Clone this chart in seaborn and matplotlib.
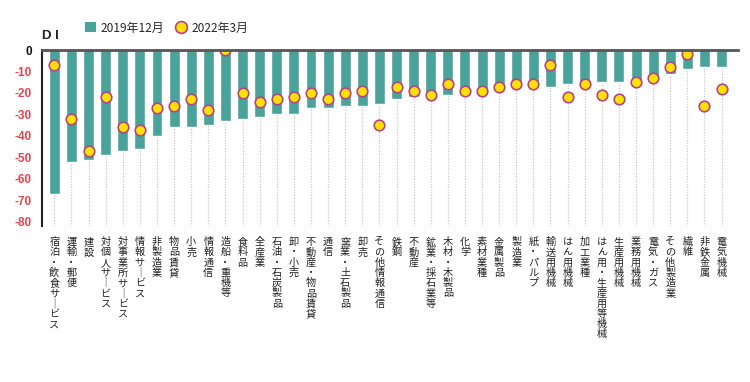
import matplotlib
matplotlib.use("Agg")
import matplotlib.pyplot as plt
from matplotlib.lines import Line2D
from matplotlib.patches import Patch
import seaborn as sns
import pandas as pd

categories = [
    "宿泊・飲食サービス", "運輸・郵便", "建設", "対個人サービス", "対事業所サービス",
    "情報サービス", "非製造業", "物品賃貸", "小売", "情報通信",
    "造船・重機等", "食料品", "全産業", "石油・石炭製品", "卸・小売",
    "不動産・物品賃貸", "通信", "窯業・土石製品", "卸売", "その他情報通信",
    "鉄鋼", "不動産", "鉱業・採石業等", "木材・木製品", "化学",
    "素材業種", "金属製品", "製造業", "紙・パルプ", "輸送用機械",
    "はん用機械", "加工業種", "はん用・生産用等機械", "生産用機械", "業務用機械",
    "電気・ガス", "その他製造業", "繊維", "非鉄金属", "電気機械",
]
di_2019_12 = [-67, -52, -51, -49, -47, -46, -40, -36, -36, -35,
              -33, -32, -31, -30, -30, -27, -27, -26, -26, -25,
              -23, -22, -22, -21, -21, -19, -17, -17, -17, -17,
              -16, -16, -15, -15, -14, -14, -11, -9, -8, -8]
di_2022_03 = [-7, -32, -47, -22, -36, -37, -27, -26, -23, -28,
              0, -20, -24, -23, -22, -20, -23, -20, -19, -35,
              -17, -19, -21, -16, -19, -19, -17, -16, -16, -7,
              -22, -16, -21, -23, -15, -13, -8, -2, -26, -18]
series_labels = ["2019年12月", "2022年3月"]
ytick_values = [0, -10, -20, -30, -40, -50, -60, -70, -80]

TEAL = "#4aa39b"
YELLOW = "#ffe100"
EDGE = "#b5438a"
RED = "#e2474f"

sns.set_theme(style="white")
plt.rcParams["font.family"] = ["Noto Sans CJK JP", "DejaVu Sans"]

df = pd.DataFrame({"cat": categories, "v1": di_2019_12, "v2": di_2022_03})

fig = plt.figure(figsize=(7.5, 3.82), dpi=100)
ax = fig.add_axes([41.7 / 750, 1 - 226 / 382, (738 - 41.7) / 750, (226 - 50) / 382])

sns.barplot(data=df, x="cat", y="v1", color=TEAL, saturation=1, width=0.64,
            ax=ax, zorder=2, order=categories)
sns.stripplot(data=df, x="cat", y="v2", jitter=False, size=7.6, color=YELLOW,
              edgecolor=EDGE, linewidth=1.2, ax=ax, zorder=4, order=categories)

ax.set_xlim(-0.74, 39.96)
ax.set_ylim(-81.9, 0)
ax.set_xlabel("")
ax.set_ylabel("")

# dotted vertical guide lines
ax.xaxis.grid(True, linestyle=(0, (1, 1.2)), color="#c8c8c8", linewidth=0.9, zorder=0)
ax.yaxis.grid(False)
ax.set_axisbelow(True)

# spines
for s in ["right", "bottom"]:
    ax.spines[s].set_visible(False)
ax.spines["top"].set_color("#555555")
ax.spines["top"].set_linewidth(2)
ax.spines["top"].set_zorder(5)
ax.spines["left"].set_color("#222222")
ax.spines["left"].set_linewidth(1.5)

# y ticks
ax.set_yticks(ytick_values)
ax.set_yticklabels([str(v) for v in ytick_values])
ax.tick_params(axis="y", length=0, pad=7)
for lbl, v in zip(ax.get_yticklabels(), ytick_values):
    lbl.set_fontfamily(["Liberation Sans", "DejaVu Sans"])
    lbl.set_fontweight("bold")
    lbl.set_fontsize(8.5)
    lbl.set_color("#111111" if v == 0 else RED)

# x tick labels, vertical writing
def vert(s):
    return "\n".join(ch if ch != "ー" else "｜" for ch in s)

ax.set_xticks(range(len(categories)))
ax.set_xticklabels([vert(c) for c in categories], fontsize=7.3, color="#222222",
                   linespacing=1.03, va="top", ha="center")
ax.tick_params(axis="x", length=0, pad=8)

# DI label
fig.text(42 / 750, 1 - 36 / 382, "D I", fontsize=9.5, color="#222222",
         fontweight="bold", va="center", ha="left",
         family=["Liberation Sans", "DejaVu Sans"])

# legend
handles = [
    Patch(facecolor=TEAL, edgecolor="none"),
    Line2D([], [], marker="o", linestyle="none", markersize=8.5,
           markerfacecolor=YELLOW, markeredgecolor=EDGE, markeredgewidth=1.2),
]
fig.legend(handles, series_labels, loc="center left",
           bbox_to_anchor=(80 / 750, 1 - 28 / 382), ncol=2, frameon=False,
           fontsize=8.6, handlelength=0.9, handleheight=0.9, handletextpad=0.4,
           columnspacing=1.0, borderaxespad=0)

fig.savefig("out.png", dpi=100)
